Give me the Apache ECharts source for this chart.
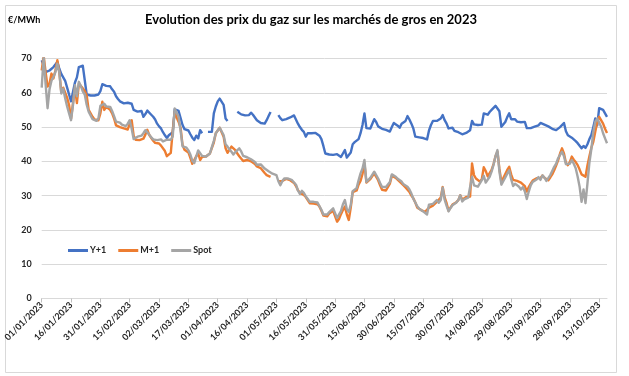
<!DOCTYPE html>
<html>
<head>
<meta charset="utf-8">
<script src="https://cdn.jsdelivr.net/npm/echarts@6/dist/echarts.min.js"></script>
<style>
html,body{margin:0;padding:0;background:#fff;}
#chart{width:629px;height:376px;}
</style>
</head>
<body>
<div id="chart"></div>
<script>
const titleText = 'Evolution des prix du gaz sur les marchés de gros en 2023';
const unitText = '€/MWh';
const seriesNames = ['Y+1', 'M+1', 'Spot'];
const startDate = [2023, 0, 1];
const dayCount = 290;
const yTicks = [0, 10, 20, 30, 40, 50, 60, 70];

const yPlus1 = [
69.5, 68, 66, 66, 66.5, 67, 67.5, 68, 69, 67,
65.5, 64.5, 63.5, 61.5, 59.5, 57.5, 58, 63, 64.5, 67.5,
67.8, 67.9, 68, 59.5, 59, 59.2, 59, 59.2, 59.3, 59.5,
60.5, 62.5, 62.2, 62, 61.8, 61.9, 61, 60.3, 59, 58.2,
57.5, 57.3, 56.9, 57.2, 57.1, 57.4, 56.8, 55, 54.6, 54.5,
54.5, 54.7, 53, 53.8, 54.8, 54.5, 53.6, 53, 52.2, 51,
50.2, 49.6, 48.5, 47.6, 46.8, 47.6, 47.7, 48.5, 55.2, 55.1,
54.7, 54.3, 50.6, 49.4, 49.2, 49, 47.9, 46.9, 46.2, 47.5,
46.7, 49.1, 48.2, null, null, 48.6, 49.1, 48.6, 54, 56,
57.5, 58.3, 58.8, 56.5, 52.5, 51.8, null, null, null, null,
54.5, 54, 53.7, 53.5, 53.4, 53.5, 53.5, 54.2, 53.6, 52.8,
52, 51.6, 51.2, 51, 51, 52, 53.2, 54.4, null, null,
null, 53.5, 52.6, 52, 52, 52.3, 52.5, 52.8, 53.1, 53.4,
53, 51, 50, 49.2, 48.6, 47.2, 48.2, 47.7, 48.2, 48.1,
48.3, 48.4, 47.5, 46.5, 44.5, 42.3, 42.1, 42, 42.1, 41.9,
41.4, 42.1, 41.6, 41.3, 42.3, 43.3, 41.1, 40.9, 42.6, 45,
45.6, 45.7, 46.5, 48.2, 50.6, 54, 49.7, 49.6, 49.6, 49.6,
52.3, 51.5, 50.2, 49.7, 49.5, 49.3, 49.2, 49.6, 48.7, 50,
51.2, 50.8, 50.4, 49.8, 51, 51.4, 51.8, 53.2, 52.2, 51,
49.6, 47.2, 46.8, 47, 47.2, 46.8, 47.1, 46.4, 49, 50.6,
51.8, 51.7, 51.8, 52.1, 52.5, 53.5, 52, 51, 49.6, 49.2,
49.8, 48.9, 48.6, 48.5, 48.1, 47.9, 48, 48.3, 48.6, 49.1,
51.8, 50.8, 50.6, 50.6, 50.6, 50.7, 54, 54.2, 53.6, 54.4,
55, 55.6, 56.2, 56.7, 54.6, 50.1, 49.7, 51.5, 52.9, 54,
52.3, 52, 52.3, 51.6, 51.4, 51.4, 51.4, 51.5, 49.7, 49.8,
49.7, 50, 50.1, 50.3, 50.5, 51.2, 50.9, 50.7, 50.6, 50.2,
50, 49.5, 49.3, 49.1, 49.5, 50, 50.5, 51.2, 48.8, 47.6,
47.2, 46.9, 46.4, 45.9, 45.3, 44.8, 43.8, 44.5, 43.9, 45,
46.5, 47.7, 50, 52.5, 50.5, 55.5, 56, 55, 54, 53
];

const mPlus1 = [
66.5, 70.8, 66, 61.8, 62.7, 65.6, 64.2, 66.5, 69.5, 66,
60.3, 61.5, 60, 58.5, 56.4, 52.5, 57, 61.5, 57, 62.7,
62.7, 61.3, 60.5, 59.2, 55, 54.5, 53, 52.2, 52, 52,
54, 57.4, 55, 55.9, 55.5, 55, 54, 52.5, 50.5, 50.1,
50, 49.9, 49.6, 49.4, 49.3, 51, 52, 47.5, 46.3, 46.7,
46.2, 45.8, 46.6, 47.8, 49.2, 47.7, 47.3, 46, 45.4, 45.2,
45.2, 44.6, 44.2, 43, 41.5, 41.6, 42.5, 49, 54.5, 52.8,
51.5, 49.8, 44.8, 43.4, 43.3, 42.6, 41, 39.3, 39.8, 41.5,
42.3, 40.4, 41.3, 41.4, 41.4, 41.5, 42.3, 41.9, 45.5, 48.2,
49, 49.8, 49.5, 47.2, 43.8, 42.5, 42.6, 44.3, 44.3, 43.3,
42.3, 41.5, 41, 40.1, 40, 40.4, 40.4, 40, 39.6, 39.2,
38.5, 38.8, 38, 37.5, 36.6, 36, 36, 35.5, null, null,
null, 34.2, 34, 34.3, 34.8, 34.9, 34.5, 34.5, 34.2, 33.7,
32.8, 31.6, 30.8, 31.1, 30.2, 29.6, 29.2, 27.8, 27.7, 27.7,
27.7, 27.5, 26.8, 25.6, 24.2, 23.8, 24, 24.8, 25.1, 25.6,
25.8, 22.4, 23.2, 24.6, 25.8, 26.8, 24.5, 22.9, 26.5, 31,
30.7, 31.5, 33.2, 34.3, 36.3, 39.4, 33.8, 34, 34.8, 35,
36.5, 36.8, 34.5, 33, 31.7, 31.6, 31.5, 31.8, 33.5, 35.8,
35.7, 35.2, 34.8, 34.1, 33.7, 33, 32.4, 32.1, 31.1, 30,
29.2, 28, 26.5, 26.2, 25.8, 25.5, 25.3, 24.9, 26.5, 26.8,
27.1, 27.6, 28.2, 28.2, 29.4, 32.5, 29.5, 27.8, 25.6, 26.5,
27.4, 27.7, 28.1, 28.7, 30.1, 28.8, 29.1, 29.6, 29.7, 29.7,
39.4, 36, 35, 34.7, 34.1, 34.8, 38.3, 37.2, 35.6, 36,
37.5, 39.2, 41.5, 42.8, 37.8, 34, 34.1, 36.3, 37.5, 38.4,
36.2, 34.6, 34.8, 34.3, 34.2, 33.8, 34, 32.8, 31.2, 32.5,
33.5, 34.4, 34.7, 35.1, 35.5, 35.1, 35.9, 35.2, 34.7, 34.5,
35.3, 36.2, 37.4, 38.8, 40.3, 42.3, 43.8, 42.3, 39.6, 38.9,
39.8, 41.4, 40.5, 39.8, 38.9, 37.6, 36.2, 36.5, 35.5, 38.8,
41.5, 44, 45.7, 48.6, 51.5, 53, 52.5, 51, 49.5, 48.3
];

const spot = [
61.5, 70.5, 62.5, 55.5, 61, 63.5, 64.7, 66, 68.5, 66,
59.8, 61.2, 58.4, 56, 54, 52, 56.4, 62.2, 59, 63.2,
62, 60.4, 59.5, 56.5, 54.5, 54.5, 52.3, 52, 51.8, 52.5,
56.2, 56, 56.8, 56, 55.9, 55.9, 54.7, 53.2, 51.6, 51.5,
51.3, 50.7, 50.5, 50.3, 51, 52, 49.5, 46.5, 46.9, 47.2,
47.2, 47.5, 48.2, 49.1, 49.2, 47.8, 47, 46.4, 46.2, 46.2,
46.2, 46.4, 45.8, 46, 46.3, 46.7, 46.3, 47.3, 55.4, 55,
53, 49, 44.4, 44.3, 44, 43.2, 42, 40.2, 39.5, 41.4,
43.2, 42.4, 41.6, 41.4, 41.4, 41.8, 42.3, 42.3, 46, 48.2,
49, 49.8, 50, 47.7, 45, 44.3, 43.5, 42.8, 42, 42.7,
43.2, 43.8, 42.9, 41.6, 41.4, 41.2, 40.9, 40.6, 40.1, 39.8,
39, 39.4, 39.1, 38.6, 37.9, 37.6, 37.1, 37, 36.4, 35.9,
36, 34.2, 33, 34.2, 35, 35, 35, 34.8, 34.5, 34.1,
33.2, 31.5, 30.5, 31.4, 30.8, 29.8, 29, 28.2, 28.2, 28.2,
28.2, 28, 27.5, 25.9, 24.5, 24.1, 24.5, 25.2, 25.6, 26.3,
26, 23.5, 23.2, 25.5, 27.5, 28.7, 26, 25.3, 27.3, 31.3,
31.1, 32.2, 34.5, 36.5, 37.9, 40.4, 34, 34, 35.2, 35.5,
37, 37.5, 35, 33.7, 32.5, 32.4, 32.5, 32.6, 34, 36.2,
36.2, 35.5, 34.9, 34.6, 34.1, 33.3, 32.9, 32.6, 31.8, 30.6,
29.1, 28, 26.9, 26.2, 25.8, 25.4, 25.3, 24.5, 27.4, 27.4,
27.6, 28, 28.7, 27.9, 28.7, 32.3, 28.8, 27, 25.4, 26.4,
27.2, 27.6, 28, 28.7, 30.1, 28.3, 28.9, 29.2, 29.4, 29.7,
35.5, 33, 32.6, 32.6, 32.8, 34.5, 35.8, 33.8, 34.2, 35.5,
37, 39, 41.5, 43.3, 37, 33.2, 33.5, 35.3, 36.4, 37.4,
34.8, 32.8, 33.5, 33.6, 32.6, 31.8, 32.5, 31.2, 29, 31.2,
33, 34, 34.3, 34.7, 35.4, 34.6, 35.9, 35.3, 34.3, 34,
36, 37.2, 38.4, 39.3, 40.9, 41.9, 42.8, 41.5, 39.2, 39,
39.3, 40.4, 39.3, 38, 35.5, 32.6, 28.2, 31.8, 27.8, 33.5,
39.6, 43.6, 48.6, 51.5, 52.5, 52, 50.1, 48.2, 46.7, 45.3
];

function pad(n) { return (n < 10 ? '0' : '') + n; }
const dates = [];
for (let i = 0; i < dayCount; i++) {
  const d = new Date(Date.UTC(startDate[0], startDate[1], startDate[2] + i));
  dates.push(pad(d.getUTCDate()) + '/' + pad(d.getUTCMonth() + 1) + '/' + d.getUTCFullYear());
}

const FONT = 'Lato, "Liberation Sans", sans-serif';
const colors = ['#4472C4', '#ED7D31', '#A5A5A5'];
const chart = echarts.init(document.getElementById('chart'), null, {renderer: 'canvas'});

const mkSeries = (name, data, color) => ({
  name: name, type: 'line', data: data, showSymbol: false, symbol: 'none',
  connectNulls: false, smooth: false,
  lineStyle: {color: color, width: 2.4, join: 'round'},
  itemStyle: {color: color}, animation: false
});

chart.setOption({
  animation: false,
  backgroundColor: '#ffffff',
  color: colors,
  graphic: [
    {type: 'rect', shape: {x: 5.5, y: 5.5, width: 611, height: 367}, style: {fill: 'none', stroke: '#d9d9d9', lineWidth: 1}, silent: true},
    {type: 'text', x: 311, y: 20, style: {text: titleText, textAlign: 'center', textVerticalAlign: 'middle', font: 'bold 13px ' + FONT, fill: '#000000'}},
    {type: 'text', x: 8, y: 20, style: {text: unitText, textAlign: 'left', textVerticalAlign: 'middle', font: 'bold 9px ' + FONT, fill: '#000000'}}
  ],
  grid: {left: 41.7, right: 22, top: 58.5, bottom: 77.5, containLabel: false},
  legend: {
    data: seriesNames, left: 63, top: 241, itemWidth: 20, itemHeight: 3, itemGap: 12,
    icon: 'rect',
    textStyle: {fontFamily: FONT, fontSize: 9, fontWeight: 'bold', color: '#262626', padding: [0, 0, 0, -3]}
  },
  xAxis: {
    type: 'category', data: dates, boundaryGap: false,
    axisLine: {show: true, lineStyle: {color: '#d9d9d9', width: 1}},
    axisTick: {show: true, interval: 14, length: 4, lineStyle: {color: '#bfbfbf'}},
    axisLabel: {interval: 14, rotate: 45, margin: 5, fontFamily: FONT, fontSize: 9, fontWeight: 'bold', color: '#262626'},
    splitLine: {show: false}
  },
  yAxis: {
    type: 'value', min: yTicks[0], max: yTicks[yTicks.length - 1], interval: 10,
    axisLine: {show: false}, axisTick: {show: false},
    axisLabel: {margin: 10, fontFamily: FONT, fontSize: 9, fontWeight: 'bold', color: '#262626'},
    splitLine: {show: true, lineStyle: {color: '#d9d9d9', width: 1}}
  },
  series: [
    mkSeries(seriesNames[0], yPlus1, colors[0]),
    mkSeries(seriesNames[1], mPlus1, colors[1]),
    mkSeries(seriesNames[2], spot, colors[2])
  ]
});
</script>
</body>
</html>
